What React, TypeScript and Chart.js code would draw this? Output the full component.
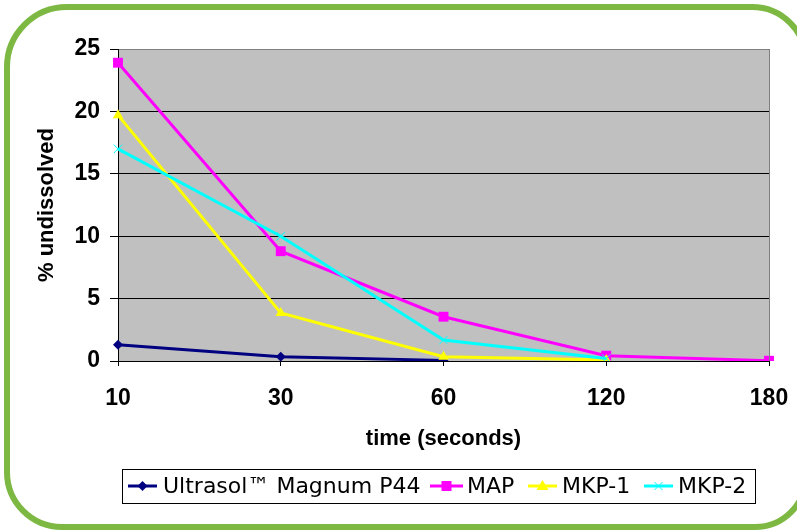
import React, { useEffect, useRef } from 'react';
import { Chart, registerables } from 'chart.js';

Chart.register(...registerables);

const categories = ['10', '30', '60', '120', '180'];
const ultrasol = [1.3, 0.35, 0.05, null, null];
const map = [23.9, 8.8, 3.55, 0.43, 0.02];
const mkp1 = [19.7, 3.85, 0.35, 0.08, null];
const mkp2 = [17.0, 10.0, 1.68, 0.2, null];
const seriesNames = ['Ultrasol™ Magnum P44', 'MAP', 'MKP-1', 'MKP-2'];
const seriesColors = ['#000080', '#ff00ff', '#ffff00', '#00ffff'];
const seriesMarkers = ['rectRot', 'rect', 'triangle', 'crossRot'];
const yMin = 0;
const yMax = 25;
const yStep = 5;
const xTitle = 'time (seconds)';
const yTitle = '% undissolved';

function drawMarker(ctx: CanvasRenderingContext2D, style: string, x: number, y: number, color: string) {
  ctx.save();
  ctx.fillStyle = color;
  ctx.strokeStyle = color;
  ctx.beginPath();
  if (style === 'rectRot') {
    ctx.moveTo(x, y - 5); ctx.lineTo(x + 5, y); ctx.lineTo(x, y + 5); ctx.lineTo(x - 5, y); ctx.closePath(); ctx.fill();
  } else if (style === 'rect') {
    ctx.rect(x - 5, y - 5, 10, 10); ctx.fill();
  } else if (style === 'triangle') {
    ctx.moveTo(x, y - 6); ctx.lineTo(x + 6, y + 4); ctx.lineTo(x - 6, y + 4); ctx.closePath(); ctx.fill();
  } else {
    ctx.lineWidth = 1;
    ctx.moveTo(x - 4, y - 4); ctx.lineTo(x + 4, y + 4); ctx.moveTo(x + 4, y - 4); ctx.lineTo(x - 4, y + 4); ctx.stroke();
  }
  ctx.restore();
}

const legendItems = [
  { x0: 128, x1: 157, tx: 163 },
  { x0: 430, x1: 463, tx: 467 },
  { x0: 528, x1: 557, tx: 562 },
  { x0: 644, x1: 673, tx: 678 },
];

const decorPlugin = {
  id: 'decor',
  beforeDraw(chart: any) {
    const { ctx, chartArea } = chart;
    ctx.save();
    ctx.fillStyle = '#ffffff';
    ctx.fillRect(0, 0, chart.width, chart.height);
    // green frame
    ctx.strokeStyle = '#7db843';
    ctx.lineWidth = 6;
    ctx.beginPath();
    (ctx as any).roundRect(7, 7, 799, 520, [60, 54, 51, 55]);
    ctx.stroke();
    // plot background
    ctx.fillStyle = '#c0c0c0';
    ctx.fillRect(chartArea.left, chartArea.top, chartArea.right - chartArea.left, chartArea.bottom - chartArea.top);
    ctx.restore();
  },
  afterDatasetsDraw(chart: any) {
    const { ctx, chartArea } = chart;
    ctx.save();
    ctx.strokeStyle = '#808080';
    ctx.lineWidth = 1;
    ctx.beginPath();
    ctx.moveTo(Math.round(chartArea.right) + 0.5, chartArea.top);
    ctx.lineTo(Math.round(chartArea.right) + 0.5, chartArea.bottom);
    ctx.stroke();
    ctx.restore();
  },
  afterDraw(chart: any) {
    const { ctx } = chart;
    ctx.save();
    ctx.strokeStyle = '#000';
    ctx.lineWidth = 1;
    ctx.strokeRect(122.5, 469.5, 633, 34);
    const cy = 486;
    ctx.font = '22px "DejaVu Sans"';
    ctx.textBaseline = 'middle';
    ctx.textAlign = 'left';
    legendItems.forEach((it, i) => {
      ctx.strokeStyle = seriesColors[i];
      ctx.lineWidth = 3;
      ctx.beginPath();
      ctx.moveTo(it.x0, cy);
      ctx.lineTo(it.x1, cy);
      ctx.stroke();
      drawMarker(ctx, seriesMarkers[i], (it.x0 + it.x1) / 2, cy, seriesColors[i]);
      ctx.fillStyle = '#000';
      ctx.fillText(seriesNames[i], it.tx, cy + 1);
    });
    ctx.restore();
  },
};

export default function App() {
  const ref = useRef<HTMLCanvasElement | null>(null);
  useEffect(() => {
    document.body.style.margin = '0';
    const canvas = ref.current;
    if (!canvas) return;
    const seriesData = [ultrasol, map, mkp1, mkp2];
    const chart = new Chart(canvas, {
      type: 'line',
      data: {
        labels: categories,
        datasets: seriesData.map((d, i) => ({
          label: seriesNames[i],
          data: d,
          borderColor: seriesColors[i],
          backgroundColor: seriesColors[i],
          borderWidth: 3,
          tension: 0,
          pointStyle: seriesMarkers[i] as any,
          pointRadius: i === 1 ? 7 : i === 0 ? 5 : 6,
          pointBorderWidth: i === 3 ? 1 : 0,
          pointBackgroundColor: seriesColors[i],
          pointBorderColor: seriesColors[i],
          order: 4 - i,
          spanGaps: false,
        })),
      },
      options: {
        animation: false,
        responsive: true,
        maintainAspectRatio: false,
        layout: { padding: { top: 49, right: 28, bottom: 75, left: 0 } },
        plugins: { legend: { display: false }, tooltip: { enabled: false } },
        scales: {
          x: {
            type: 'category',
            offset: false,
            afterFit: (s: any) => { s.height = 94; s.paddingLeft = 0; s.paddingRight = 0; },
            grid: { display: true, drawOnChartArea: false, drawTicks: true, tickLength: 5, tickColor: '#000' },
            border: { color: '#000', width: 1 },
            ticks: { color: '#000', padding: 19, maxRotation: 0, font: { family: '"Liberation Sans", Arial', size: 23, weight: 'bold' } },
            title: { display: true, text: xTitle, color: '#000', padding: { top: 0, bottom: 3 }, font: { family: '"Liberation Sans", Arial', size: 22, weight: 'bold' } },
          },
          y: {
            min: yMin,
            max: yMax,
            afterFit: (s: any) => { s.width = 118; s.paddingTop = 0; s.paddingBottom = 0; },
            grid: {
              color: (c: any) => (c.tick && c.tick.value === yMax ? '#808080' : '#000'),
              lineWidth: 1,
              tickLength: 8,
              tickColor: '#000',
            },
            border: { color: '#000', width: 1 },
            ticks: { stepSize: yStep, color: '#000', padding: 10, font: { family: '"Liberation Sans", Arial', size: 23, weight: 'bold' } },
            title: { display: true, text: yTitle, color: '#000', padding: { top: 34, bottom: 0 }, font: { family: '"Liberation Sans", Arial', size: 22, weight: 'bold' } },
          },
        },
      },
      plugins: [decorPlugin],
    } as any);
    return () => chart.destroy();
  }, []);
  return (
    <div style={{ width: 797, height: 530, position: 'relative' }}>
      <canvas ref={ref} />
    </div>
  );
}
